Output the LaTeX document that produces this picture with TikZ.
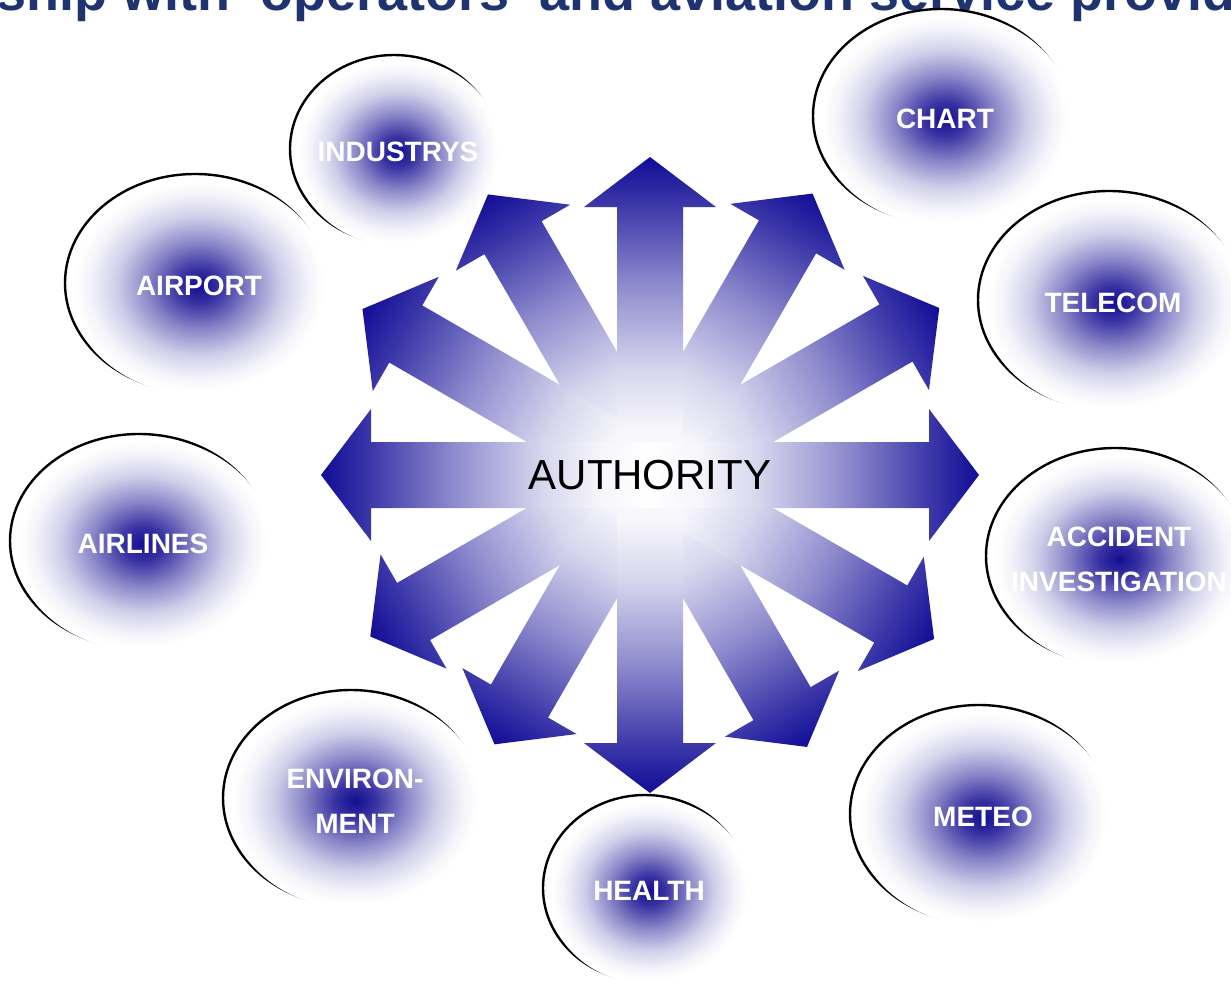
\documentclass[tikz,border=0pt]{standalone}
\usepackage{fontspec}
\setmainfont{Liberation Sans}
\definecolor{abl}{RGB}{17,12,150}
\definecolor{bbl}{RGB}{20,14,145}
\definecolor{ttl}{RGB}{31,51,112}
\pgfdeclarehorizontalshading{arrowshade}{100bp}{color(0bp)=(white); color(25bp)=(white); color(32.5bp)=(abl!4!white); color(41.5bp)=(abl!17!white); color(55bp)=(abl!48!white); color(67.5bp)=(abl!82!white); color(75bp)=(abl); color(100bp)=(abl)}
\pgfdeclareradialshading{bubshade}{\pgfpoint{0bp}{0bp}}{color(0bp)=(bbl); color(4bp)=(bbl!85!white); color(10bp)=(bbl!50!white); color(16bp)=(bbl!20!white); color(21bp)=(bbl!5!white); color(24bp)=(white); color(50bp)=(white)}
\tikzset{
  lbl/.style={text=white, font=\fontsize{28}{45}\selectfont\bfseries, align=center, inner sep=0pt},
  rim/.style={line width=2.4pt, draw=black},
}
\newcommand\mybubble[6]{%
  \draw[rim] (#2-4,#3-3) ellipse [x radius=#4, y radius=#5];
  \shade[shading=bubshade] (#2,#3) ellipse [x radius=#4, y radius=#5];
  \node[lbl] (#1) at (#2,#3) {#6};
}
\begin{document}
\begin{tikzpicture}[x=1pt,y=-1pt]
\useasboundingbox (0,0) rectangle (1231,985);
\clip (0,0) rectangle (1231,985);
\fill[white] (0,0) rectangle (1231,985);
% title (cut off at the top)
\node[font=\fontsize{54}{60}\selectfont\bfseries, text=ttl, anchor=base west, inner sep=0pt] (title) at (-4,10) {ship with ‘operators’ and aviation service provid};
% bubbles
\mybubble{industrys}{398}{152}{104}{94}{INDUSTRYS}
\mybubble{airport}{199}{286}{130}{109}{AIRPORT}
\mybubble{chart}{945}{119}{128}{107}{CHART}
\mybubble{telecom}{1113}{303}{131}{109}{TELECOM}
\mybubble{accident}{1119}{559}{129}{108}{ACCIDENT\\INVESTIGATION}
\mybubble{meteo}{983}{817}{129}{109}{METEO}
\mybubble{health}{649}{891}{102}{93}{HEALTH}
\mybubble{environ}{355}{801}{128}{108}{ENVIRON-\\MENT}
\mybubble{airlines}{143}{544}{129}{107}{AIRLINES}
% arrows
\foreach \a/\L in {30/334,60/325,120/324,150/332,210/323,240/311,300/314,330/328,90/318,270/318,0/329,180/329}{
  \begin{scope}[transform canvas={shift={(650,475)},rotate=\a}]
    \shade[shading=arrowshade] (0,-33) -- (\L-50,-33) -- (\L-50,-66) -- (\L,0) -- (\L-50,66) -- (\L-50,33) -- (0,33) -- cycle;
  \end{scope}
}
\node[font=\fontsize{42}{42}\selectfont, inner sep=0pt] (auth) at (650,475) {AUTHORITY};
\end{tikzpicture}
\end{document}
